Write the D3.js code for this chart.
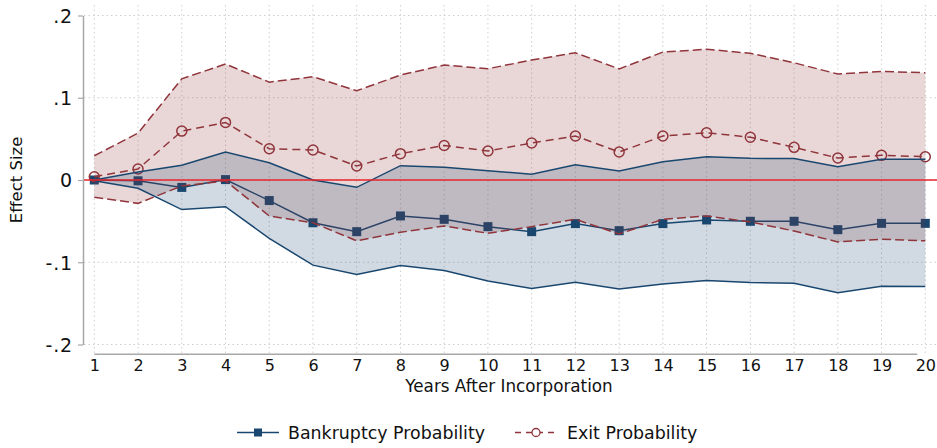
<!DOCTYPE html>
<html>
<head>
<meta charset="utf-8">
<script src="https://cdn.jsdelivr.net/npm/d3@7"></script>
<style>
  body { margin: 0; background: #fff; }
  svg { font-family: "DejaVu Sans", Verdana, sans-serif; }
</style>
</head>
<body>
<div id="chart"></div>
<script>
var years = [1, 2, 3, 4, 5, 6, 7, 8, 9, 10, 11, 12, 13, 14, 15, 16, 17, 18, 19, 20];

// Bankruptcy probability: point estimate and CI
var bankEst = [0, -0.001, -0.009, 0.0005, -0.025, -0.052, -0.0628, -0.0437, -0.0478, -0.0567,
               -0.0628, -0.053, -0.0616, -0.053, -0.0486, -0.0502, -0.0502, -0.0604, -0.0527, -0.0527];
var bankHi = [0, 0.0097, 0.018, 0.034, 0.021, 0.0, -0.0089, 0.0174, 0.0154, 0.0113,
              0.0069, 0.0186, 0.011, 0.0223, 0.0283, 0.0263, 0.026, 0.0162, 0.0251, 0.0251];
var bankLo = [-0.001, -0.0101, -0.036, -0.0324, -0.071, -0.1035, -0.115, -0.104, -0.110, -0.1227,
              -0.132, -0.1243, -0.1324, -0.1264, -0.1223, -0.1247, -0.1256, -0.137, -0.1292, -0.1296];

// Exit probability: point estimate and CI
var exitEst = [0.004, 0.0134, 0.0595, 0.070, 0.038, 0.0365, 0.017, 0.032, 0.042, 0.0352,
               0.045, 0.0535, 0.034, 0.0535, 0.0575, 0.052, 0.0397, 0.0267, 0.030, 0.0283];
var exitHi = [0.0295, 0.057, 0.123, 0.141, 0.119, 0.1255, 0.1085, 0.1276, 0.1397, 0.1353,
              0.1458, 0.1547, 0.135, 0.1555, 0.159, 0.154, 0.1425, 0.1288, 0.132, 0.1304];
var exitLo = [-0.021, -0.0284, -0.0073, -0.001, -0.0437, -0.052, -0.074, -0.0636, -0.0559, -0.0648,
              -0.0567, -0.0478, -0.0656, -0.0478, -0.0437, -0.051, -0.062, -0.0753, -0.072, -0.074];

var yTicks = [-0.2, -0.1, 0, 0.1, 0.2];
var yTickLabels = ["-.2", "-.1", "0", ".1", ".2"];

var navy = "#1a476f";
var maroon = "#90353b";

var width = 937, height = 448;

var svg = d3.select("#chart").append("svg")
  .attr("width", width)
  .attr("height", height);

var x = d3.scaleLinear().domain([1, 20]).range([94.3, 925.3]);
var y = d3.scaleLinear().domain([-0.2, 0.2]).range([344.5, 15.5]);

var rows = years.map(function (yr, i) {
  return { year: yr, bEst: bankEst[i], bHi: bankHi[i], bLo: bankLo[i],
           eEst: exitEst[i], eHi: exitHi[i], eLo: exitLo[i] };
});

// grid lines
svg.append("g")
  .selectAll("line")
  .data(years)
  .join("line")
  .attr("x1", (d) => x(d))
  .attr("x2", (d) => x(d))
  .attr("y1", 5)
  .attr("y2", 354)
  .attr("stroke", "#cfcfcf")
  .attr("stroke-width", 1)
  .attr("stroke-dasharray", "1.5,3");

svg.append("g")
  .selectAll("line")
  .data(yTicks)
  .join("line")
  .attr("x1", 84)
  .attr("x2", width)
  .attr("y1", (d) => y(d))
  .attr("y2", (d) => y(d))
  .attr("stroke", "#cfcfcf")
  .attr("stroke-width", 1)
  .attr("stroke-dasharray", "1.5,3");

// point estimate lines and markers (drawn under the bands)
var lineB = d3.line().x((d) => x(d.year)).y((d) => y(d.bEst));
var lineE = d3.line().x((d) => x(d.year)).y((d) => y(d.eEst));

svg.append("path")
  .datum(rows)
  .attr("fill", "none")
  .attr("stroke", navy)
  .attr("stroke-width", 1.5)
  .attr("d", lineB);

svg.append("g")
  .attr("fill", navy)
  .selectAll("rect")
  .data(rows)
  .join("rect")
  .attr("x", (d) => x(d.year) - 4.5)
  .attr("y", (d) => y(d.bEst) - 4.5)
  .attr("width", 9)
  .attr("height", 9);

svg.append("path")
  .datum(rows)
  .attr("fill", "none")
  .attr("stroke", maroon)
  .attr("stroke-width", 1.5)
  .attr("stroke-dasharray", "8,5")
  .attr("d", lineE);

svg.append("g")
  .selectAll("circle")
  .data(rows)
  .join("circle")
  .attr("cx", (d) => x(d.year))
  .attr("cy", (d) => y(d.eEst))
  .attr("r", 5)
  .attr("fill", "none")
  .attr("stroke", maroon)
  .attr("stroke-width", 1.5);

// confidence bands
var areaE = d3.area().x((d) => x(d.year)).y0((d) => y(d.eLo)).y1((d) => y(d.eHi));
var areaB = d3.area().x((d) => x(d.year)).y0((d) => y(d.bLo)).y1((d) => y(d.bHi));

svg.append("path")
  .datum(rows)
  .attr("fill", maroon)
  .attr("fill-opacity", 0.2)
  .attr("d", areaE);

svg.append("path")
  .datum(rows)
  .attr("fill", navy)
  .attr("fill-opacity", 0.2)
  .attr("d", areaB);

// band edges
var ciLines = [
  { key: "bHi", color: navy, dash: null },
  { key: "bLo", color: navy, dash: null },
  { key: "eHi", color: maroon, dash: "9,4" },
  { key: "eLo", color: maroon, dash: "9,4" }
];
ciLines.forEach(function (c) {
  svg.append("path")
    .datum(rows)
    .attr("fill", "none")
    .attr("stroke", c.color)
    .attr("stroke-width", 1.5)
    .attr("stroke-dasharray", c.dash)
    .attr("d", d3.line().x((d) => x(d.year)).y((d) => y(d[c.key])));
});

// zero line
svg.append("line")
  .attr("x1", 84)
  .attr("x2", width)
  .attr("y1", y(0))
  .attr("y2", y(0))
  .attr("stroke", "#e8262c")
  .attr("stroke-width", 1.6);

// y axis
var yAxis = svg.append("g")
  .attr("transform", "translate(83,0)")
  .call(d3.axisLeft(y)
    .tickValues(yTicks)
    .tickSize(5)
    .tickSizeOuter(0)
    .tickFormat((d, i) => yTickLabels[i]));
yAxis.select(".domain").attr("stroke", "#a8a8a8").attr("stroke-width", 1.5);
yAxis.selectAll(".tick line").attr("stroke", "#a8a8a8").attr("stroke-width", 1.2);
yAxis.selectAll(".tick text")
  .attr("x", -10)
  .attr("dy", "0.36em")
  .attr("font-size", 19)
  .attr("letter-spacing", 0.8)
  .attr("font-family", "DejaVu Sans")
  .attr("fill", "#111");

// x axis
var xAxis = svg.append("g")
  .attr("transform", "translate(0,354.3)")
  .call(d3.axisBottom(x).tickValues(years).tickSize(0).tickFormat((d) => d));
xAxis.select(".domain").remove();
xAxis.append("line")
  .attr("x1", x(1))
  .attr("x2", x(20) - 8)
  .attr("stroke", "#a8a8a8")
  .attr("stroke-width", 1.5);
xAxis.selectAll(".tick text")
  .attr("y", 5)
  .attr("dy", "0.71em")
  .attr("font-size", 16)
  .attr("font-family", "DejaVu Sans")
  .attr("fill", "#111");

// axis titles
svg.append("text")
  .attr("x", 509)
  .attr("y", 392)
  .attr("text-anchor", "middle")
  .attr("font-size", 16.8)
  .attr("fill", "#111")
  .text("Years After Incorporation");

svg.append("text")
  .attr("transform", "translate(22,180) rotate(-90)")
  .attr("text-anchor", "middle")
  .attr("font-size", 16.5)
  .attr("fill", "#111")
  .text("Effect Size");

// legend
var legend = svg.append("g").attr("transform", "translate(0,432.5)");

legend.append("line")
  .attr("x1", 237).attr("x2", 279)
  .attr("stroke", navy).attr("stroke-width", 1.5);
legend.append("rect")
  .attr("x", 254).attr("y", -4).attr("width", 8).attr("height", 8)
  .attr("fill", navy);
legend.append("text")
  .attr("x", 288).attr("y", 6.5)
  .attr("font-size", 17.4)
  .attr("fill", "#111")
  .text("Bankruptcy Probability");

legend.append("line")
  .attr("x1", 515).attr("x2", 558)
  .attr("stroke", maroon).attr("stroke-width", 1.5)
  .attr("stroke-dasharray", "6,5");
legend.append("circle")
  .attr("cx", 536).attr("cy", 0).attr("r", 4)
  .attr("fill", "#fff").attr("stroke", maroon).attr("stroke-width", 1.3);
legend.append("text")
  .attr("x", 567).attr("y", 6.5)
  .attr("font-size", 17.4)
  .attr("fill", "#111")
  .text("Exit Probability");
</script>
</body>
</html>
